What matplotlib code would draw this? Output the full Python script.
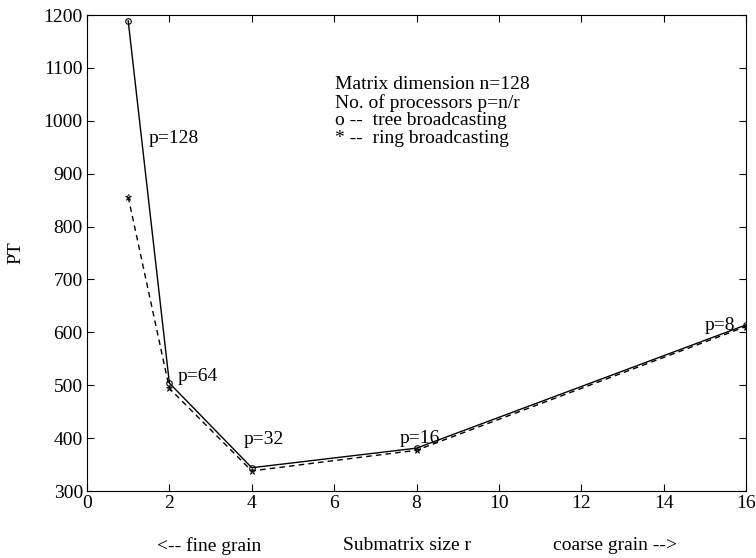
import numpy as np
import matplotlib.pyplot as plt

plt.rcParams['font.family'] = ['Liberation Serif', 'DejaVu Serif']
plt.rcParams['font.size'] = 14

# submatrix size r and parallel time PT
r = [1, 2, 4, 8, 16]
pt_tree = [1189, 504, 344, 381, 614]
pt_ring = [856, 494, 338, 377, 611]
p_labels = ["p=128", "p=64", "p=32", "p=16", "p=8"]

fig = plt.figure(figsize=(7.56, 5.58), dpi=100)
ax = fig.add_axes([87 / 756, 1 - 491 / 558, 659 / 756, 476 / 558])

ax.plot(r, pt_tree, color='black', lw=1.0, marker='o', ms=4, mfc='none', mew=0.8)
ax.plot(r, pt_ring, color='black', lw=1.0, ls=(0, (4, 3)), marker='*', ms=4.5, mfc='none', mew=0.6)

# processor count labels
label_pos = [(1.5, 967), (2.21, 516), (3.81, 398), (7.6, 400), (15.0, 612)]
for txt, (x, y) in zip(p_labels, label_pos):
    ax.text(x, y, txt, va='center')

info = ["Matrix dimension n=128",
        "No. of processors p=n/r",
        "o --  tree broadcasting",
        "* --  ring broadcasting"]
for i, line in enumerate(info):
    ax.text(6.02, 1068 - 34 * i, line, va='center')

ax.set_xlim(0, 16)
ax.set_ylim(300, 1200)
ax.set_xticks(range(0, 17, 2))
ax.set_yticks(range(300, 1201, 100))
ax.tick_params(direction='in', top=True, right=True, length=5, width=0.8, pad=3)
for s in ax.spines.values():
    s.set_linewidth(0.8)
ax.set_ylabel("PT", labelpad=14)

fig.text(209 / 756, 1 - 546 / 558, "<-- fine grain", ha='center', va='center')
fig.text(407 / 756, 1 - 546 / 558, "Submatrix size r", ha='center', va='center')
fig.text(615 / 756, 1 - 546 / 558, "coarse grain -->", ha='center', va='center')

fig.savefig("out.png", dpi=100)
plt.close(fig)
